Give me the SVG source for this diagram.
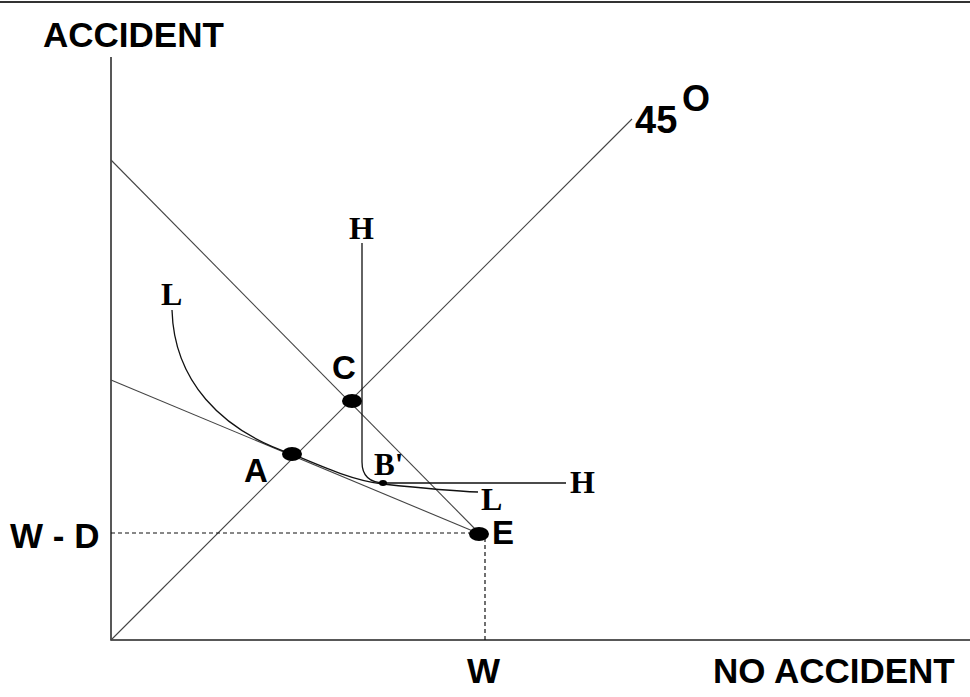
<svg xmlns="http://www.w3.org/2000/svg" width="970" height="697" viewBox="0 0 970 697">
  <style>
    .axis { stroke: #222; stroke-width: 1.5; fill: none; }
    .ln { stroke: #444; stroke-width: 1.1; fill: none; }
    .curve { stroke: #111; stroke-width: 1.3; fill: none; }
    .dot { stroke: #111; stroke-width: 1.2; fill: none; stroke-dasharray: 4 3; }
    .sans { font-family: "Liberation Sans", Arial, sans-serif; font-weight: bold; fill: #000; }
    .serif { font-family: "Liberation Serif", "Times New Roman", serif; font-weight: bold; fill: #000; }
    .pt { fill: #000; }
  </style>
  <rect width="970" height="697" fill="#fff"/>
  <line x1="0" y1="2" x2="970" y2="2" stroke="#333" stroke-width="2"/>

  <g id="connectors">
    <!-- axes -->
    <polyline class="axis" points="111,57 111,640 970,640"/>
    <!-- 45 degree certainty line -->
    <line class="ln" x1="111" y1="640" x2="632" y2="119"/>
    <!-- fair-odds budget line through C and E -->
    <line class="ln" x1="111" y1="160" x2="480" y2="534"/>
    <!-- budget line through A and E -->
    <line class="ln" x1="111" y1="380" x2="480" y2="534"/>
    <!-- dotted guides -->
    <line class="dot" x1="111" y1="533" x2="480" y2="533"/>
    <line class="dot" x1="485" y1="538" x2="485" y2="640"/>
    <!-- H-H indifference curve -->
    <path class="curve" d="M362,243 L362,462 C362,476 370,483 385,483 L566,483"/>
    <!-- L-L indifference curve -->
    <path class="curve" d="M172,310 C174,380 220,430 292,454 C325,468 355,481 383,484 C420,488 450,491 478,492"/>
  </g>

  <g id="axis-labels">
    <text class="sans" x="43" y="47" font-size="35">ACCIDENT</text>
    <text class="sans" x="713" y="683" font-size="35">NO ACCIDENT</text>
    <text class="sans" x="467" y="683" font-size="35">W</text>
    <text class="sans" x="10" y="548" font-size="35">W - D</text>
    <text class="sans" x="635" y="133" font-size="38">45</text>
    <text class="sans" x="682" y="111" font-size="36">O</text>
  </g>

  <g id="point-C">
    <ellipse class="pt" cx="352" cy="401" rx="10" ry="7"/>
    <text class="sans" x="332" y="379" font-size="33">C</text>
  </g>
  <g id="point-A">
    <ellipse class="pt" cx="292" cy="454" rx="10" ry="7"/>
    <text class="sans" x="244" y="482" font-size="33">A</text>
  </g>
  <g id="point-E">
    <ellipse class="pt" cx="479" cy="534" rx="10" ry="7"/>
    <text class="sans" x="492" y="544" font-size="33">E</text>
  </g>
  <g id="point-B">
    <ellipse class="pt" cx="383" cy="483" rx="4" ry="3"/>
    <text class="serif" x="374" y="475" font-size="31">B'</text>
  </g>

  <g id="curve-labels">
    <text class="serif" x="349" y="239" font-size="32">H</text>
    <text class="serif" x="570" y="493" font-size="32">H</text>
    <text class="serif" x="161" y="305" font-size="32">L</text>
    <text class="serif" x="481" y="510" font-size="32">L</text>
  </g>
</svg>
